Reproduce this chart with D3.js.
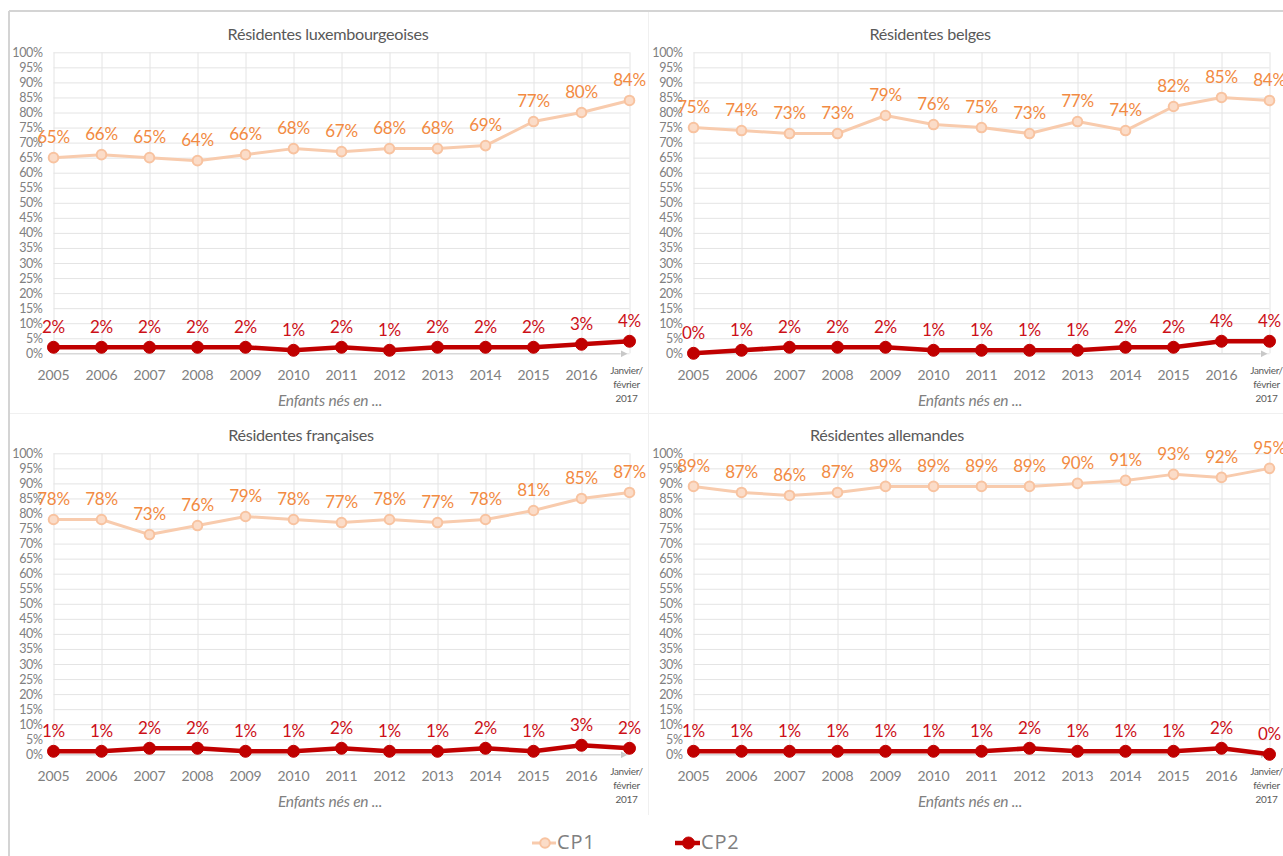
<!DOCTYPE html>
<html>
<head>
<meta charset="utf-8">
<script src="https://cdn.jsdelivr.net/npm/d3@7"></script>
<style>
  html, body { margin: 0; padding: 0; background: #ffffff; }
  svg { display: block; font-family: Lato, "Open Sans", sans-serif; }
</style>
</head>
<body>
<svg id="chart" width="1283" height="856"></svg>
<script>
// Categories (birth year of the child) and tick labels
const categories = ["2005", "2006", "2007", "2008", "2009", "2010", "2011", "2012", "2013", "2014", "2015", "2016", "Janvier/\nfévrier\n2017"];
const yTicks = [0, 0.05, 0.1, 0.15, 0.2, 0.25, 0.3, 0.35, 0.4, 0.45, 0.5, 0.55, 0.6, 0.65, 0.7, 0.75, 0.8, 0.85, 0.9, 0.95, 1];
const seriesNames = ["CP1", "CP2"];
const panelTitles = ["Résidentes luxembourgeoises", "Résidentes belges", "Résidentes françaises", "Résidentes allemandes"];
const xAxisTitle = "Enfants nés en ...";

// Shares per resident nationality
const luxCP1 = [0.65, 0.66, 0.65, 0.64, 0.66, 0.68, 0.67, 0.68, 0.68, 0.69, 0.77, 0.80, 0.84];
const luxCP2 = [0.02, 0.02, 0.02, 0.02, 0.02, 0.01, 0.02, 0.01, 0.02, 0.02, 0.02, 0.03, 0.04];
const belCP1 = [0.75, 0.74, 0.73, 0.73, 0.79, 0.76, 0.75, 0.73, 0.77, 0.74, 0.82, 0.85, 0.84];
const belCP2 = [0.00, 0.01, 0.02, 0.02, 0.02, 0.01, 0.01, 0.01, 0.01, 0.02, 0.02, 0.04, 0.04];
const fraCP1 = [0.78, 0.78, 0.73, 0.76, 0.79, 0.78, 0.77, 0.78, 0.77, 0.78, 0.81, 0.85, 0.87];
const fraCP2 = [0.01, 0.01, 0.02, 0.02, 0.01, 0.01, 0.02, 0.01, 0.01, 0.02, 0.01, 0.03, 0.02];
const allCP1 = [0.89, 0.87, 0.86, 0.87, 0.89, 0.89, 0.89, 0.89, 0.90, 0.91, 0.93, 0.92, 0.95];
const allCP2 = [0.01, 0.01, 0.01, 0.01, 0.01, 0.01, 0.01, 0.02, 0.01, 0.01, 0.01, 0.02, 0.00];

// Panel placement: offsets of each chart and the centre of its title
const panels = [
  { title: panelTitles[0], cp1: luxCP1, cp2: luxCP2, dx: 0,   dy: 0,   titleX: 328 },
  { title: panelTitles[1], cp1: belCP1, cp2: belCP2, dx: 640, dy: 0,   titleX: 930 },
  { title: panelTitles[2], cp1: fraCP1, cp2: fraCP2, dx: 0,   dy: 401, titleX: 301 },
  { title: panelTitles[3], cp1: allCP1, cp2: allCP2, dx: 640, dy: 401, titleX: 887 }
];

const style = {
  CP1: { line: "#F8CBAD", width: 3, r: 4.8, fill: "#FBDCC8", stroke: "#F8C3A0", label: "#F28A42" },
  CP2: { line: "#C00000", width: 4.5, r: 6, fill: "#C00000", stroke: "#C00000", label: "#CC1018" }
};

const svg = d3.select("#chart");
const pct = d3.format(".0%");

// Frame and faint separators between the four charts
svg.append("line").attr("x1", 9).attr("x2", 1283).attr("y1", 11).attr("y2", 11)
  .attr("stroke", "#D4D4D4").attr("stroke-width", 2);
svg.append("line").attr("x1", 9).attr("x2", 9).attr("y1", 11).attr("y2", 856)
  .attr("stroke", "#D4D4D4").attr("stroke-width", 2);
svg.append("line").attr("x1", 10).attr("x2", 1283).attr("y1", 413.5).attr("y2", 413.5)
  .attr("stroke", "#F0F0F0").attr("stroke-width", 1);
svg.append("line").attr("x1", 648.5).attr("x2", 648.5).attr("y1", 12).attr("y2", 815)
  .attr("stroke", "#F0F0F0").attr("stroke-width", 1);

// Arrow head for the category axis
svg.append("defs").append("marker")
  .attr("id", "arrow").attr("viewBox", "0 0 10 10").attr("refX", 0).attr("refY", 5)
  .attr("markerWidth", 7).attr("markerHeight", 7).attr("markerUnits", "userSpaceOnUse")
  .attr("orient", "auto")
  .append("path").attr("d", "M0,0 L10,5 L0,10 Z").attr("fill", "#C8C8C8");

panels.forEach(p => {
  const left = 53.5 + p.dx, right = 629.5 + p.dx;
  const top = 52.3 + p.dy, bottom = 353.3 + p.dy;

  const x = d3.scalePoint().domain(categories).range([left, right]);
  const y = d3.scaleLinear().domain([0, 1]).range([bottom, top]);

  const g = svg.append("g");

  // Title
  g.append("text").attr("x", p.titleX).attr("y", top - 16.5)
    .attr("text-anchor", "middle").attr("dominant-baseline", "middle")
    .attr("font-size", 16.2).attr("fill", "#595959").attr("letter-spacing", -0.3)
    .text(p.title);

  // Horizontal gridlines + y tick labels
  const yAxis = g.append("g").attr("transform", `translate(${left},0)`)
    .call(d3.axisLeft(y).tickValues(yTicks).tickFormat(pct).tickSize(-(right - left)).tickPadding(11));
  yAxis.select(".domain").remove();
  yAxis.selectAll(".tick line").attr("stroke", "#E4E4E4");
  yAxis.selectAll(".tick text").attr("fill", "#808080").attr("font-size", 12.5)
    .attr("font-family", "Lato, sans-serif").attr("letter-spacing", -0.4);

  // Vertical gridlines + category labels
  const xAxis = g.append("g").attr("transform", `translate(0,${bottom})`)
    .call(d3.axisBottom(x).tickSize(-(bottom - top)).tickFormat(""));
  xAxis.select(".domain").remove();
  xAxis.selectAll(".tick line").attr("stroke", "#E4E4E4");

  categories.forEach(c => {
    const lines = c.split("\n");
    if (lines.length === 1) {
      g.append("text").attr("x", x(c)).attr("y", bottom + 23.5)
        .attr("text-anchor", "middle").attr("dominant-baseline", "middle")
        .attr("font-size", 14).attr("fill", "#808080").attr("letter-spacing", -0.1)
        .text(c);
    } else {
      const t = g.append("text").attr("text-anchor", "middle")
        .attr("font-size", 10).attr("fill", "#595959").attr("letter-spacing", -0.3);
      lines.forEach((ln, k) => {
        t.append("tspan").attr("x", x(c) - 3).attr("y", bottom + 21 + k * 14).text(ln);
      });
    }
  });

  // Category axis line with arrow
  g.append("line").attr("x1", left).attr("x2", right - 9).attr("y1", bottom + 0.5).attr("y2", bottom + 0.5)
    .attr("stroke", "#D0D0D0").attr("stroke-width", 1).attr("marker-end", "url(#arrow)");

  // Axis title
  g.append("text").attr("x", 330 + p.dx).attr("y", bottom + 48.5)
    .attr("text-anchor", "middle").attr("dominant-baseline", "middle")
    .attr("font-size", 15.5).attr("font-style", "italic").attr("fill", "#808080").attr("letter-spacing", -0.2)
    .text(xAxisTitle);

  // Series lines, markers and value labels
  [["CP1", p.cp1], ["CP2", p.cp2]].forEach(([name, vals]) => {
    const s = style[name];
    const line = d3.line().x((d, i) => x(categories[i])).y(d => y(d));
    g.append("path").datum(vals).attr("d", line)
      .attr("fill", "none").attr("stroke", s.line).attr("stroke-width", s.width)
      .attr("stroke-linejoin", "round");
    g.selectAll(null).data(vals).enter().append("circle")
      .attr("cx", (d, i) => x(categories[i])).attr("cy", d => y(d)).attr("r", s.r)
      .attr("fill", s.fill).attr("stroke", s.stroke).attr("stroke-width", name === "CP1" ? 2 : 1);
    g.selectAll(null).data(vals).enter().append("text")
      .attr("x", (d, i) => x(categories[i])).attr("y", d => y(d) - 19)
      .attr("text-anchor", "middle").attr("dominant-baseline", "middle")
      .attr("font-size", 17).attr("fill", s.label).attr("letter-spacing", -0.2)
      .text(d => pct(d));
  });
});

// Legend
const legend = svg.append("g");
const legendItems = [
  { name: seriesNames[0], x1: 532, x2: 556 },
  { name: seriesNames[1], x1: 675, x2: 700 }
];
legendItems.forEach(it => {
  const s = style[it.name];
  legend.append("line").attr("x1", it.x1).attr("x2", it.x2).attr("y1", 843).attr("y2", 843)
    .attr("stroke", s.line).attr("stroke-width", s.width);
  legend.append("circle").attr("cx", (it.x1 + it.x2) / 2 + 1).attr("cy", 843).attr("r", s.r)
    .attr("fill", s.fill).attr("stroke", s.stroke).attr("stroke-width", it.name === "CP1" ? 2 : 1);
  legend.append("text").attr("x", it.x2 + 1).attr("y", 844).attr("dominant-baseline", "middle")
    .attr("font-size", 20).attr("fill", "#808080").attr("font-family", "'Open Sans', sans-serif")
    .attr("letter-spacing", 0.8)
    .text(it.name);
});
</script>
</body>
</html>
